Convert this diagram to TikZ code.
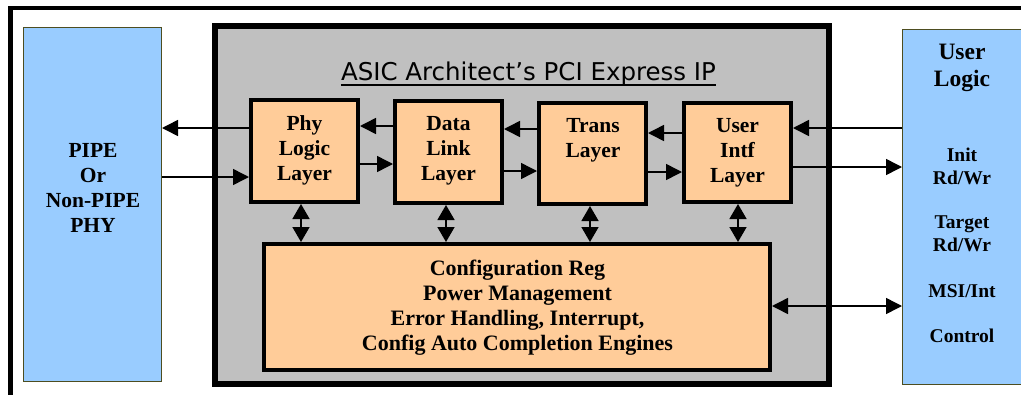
\documentclass[tikz,border=0pt]{standalone}
\usepackage{fontspec}
\setmainfont{Liberation Serif}
\newfontfamily\titlefont{DejaVu Sans}
\usetikzlibrary{arrows.meta}
\definecolor{bluefill}{HTML}{99CCFF}
\definecolor{orangefill}{HTML}{FFCC99}
\definecolor{grayfill}{HTML}{C0C0C0}
\definecolor{olive}{HTML}{4D4D20}
\tikzset{
  bluebox/.style={draw=olive, line width=1pt, fill=bluefill, inner sep=0pt},
  layerbox/.style={draw=black, line width=4pt, fill=orangefill, inner sep=0pt, minimum width=107pt},
  graybox/.style={draw=black, line width=6pt, fill=grayfill, inner sep=0pt},
  lbl/.style={font=\fontsize{21.5}{25}\selectfont\bfseries, align=center, inner sep=0pt},
  slbl/.style={font=\fontsize{19.5}{23}\selectfont\bfseries, align=center, inner sep=0pt},
  arr/.style={line width=1.5pt, -{Triangle[length=16pt,width=16pt]}},
  darr/.style={line width=1.5pt, {Triangle[length=16pt,width=16pt]}-{Triangle[length=16pt,width=16pt]}},
  varr/.style={line width=1.5pt, {Triangle[length=15pt,width=17pt]}-{Triangle[length=15pt,width=17pt]}},
}
\begin{document}
\begin{tikzpicture}[x=1pt,y=-1pt]
\useasboundingbox (0,0) rectangle (1021,394);
% outer frame
\draw[line width=4.5pt] (10.5,400) -- (10.5,8) -- (1030,8);
% left PHY box
\node[bluebox, minimum width=138pt, minimum height=354pt] (pipe) at (92.5,204.5) {};
\node[lbl] (pipetxt) at (93,187.5) {PIPE\\Or\\Non-PIPE\\PHY};
% right user logic box
\node[bluebox, minimum width=127pt, minimum height=355pt] (ulogic) at (966,207) {};
\node[font=\fontsize{23.5}{27}\selectfont\bfseries, align=center, inner sep=0pt] (ultxt) at (962,68.2) {User\\Logic};
\node[slbl] (initt) at (962,166) {Init\\Rd/Wr};
\node[slbl] (targett) at (962,234.2) {Target\\Rd/Wr};
\node[slbl] (msit) at (962,290.9) {MSI/Int};
\node[slbl] (ctrlt) at (962,335.6) {Control};
% gray IP box
\node[graybox, minimum width=614pt, minimum height=358pt] (ip) at (522,205) {};
\node[font=\titlefont\fontsize{24.5}{28}\selectfont, inner sep=0pt, anchor=base] (title) at (528.5,80) {ASIC Architect’s PCI Express IP};
\draw[line width=2.2pt] ([yshift=-5pt]title.base west) -- ([yshift=-5pt]title.base east);
% layer boxes
\node[layerbox, minimum height=102pt] (phy) at (304.5,151) {};
\node[layerbox, minimum height=102pt] (data) at (448.5,152) {};
\node[layerbox, minimum height=101pt] (trans) at (592.5,153.5) {};
\node[layerbox, minimum height=99pt] (user) at (737.5,152.5) {};
\node[lbl] (phytxt) at (304.5,150) {Phy\\Logic\\Layer};
\node[lbl] (datatxt) at (448.5,151) {Data\\Link\\Layer};
\node[lbl] (transtxt) at (593,140.7) {Trans\\Layer};
\node[lbl] (usertxt) at (737.5,153.2) {User\\Intf\\Layer};
% config box
\node[layerbox, minimum width=506pt, minimum height=126pt] (config) at (517,307) {};
\node[font=\fontsize{22}{25.2}\selectfont\bfseries, align=center, inner sep=0pt] (conftxt) at (517.5,307.7)
  {Configuration Reg\\Power Management\\Error Handling, Interrupt,\\Config Auto Completion Engines};
% horizontal arrows
\draw[arr] ([yshift=23pt]phy.west) -- ([yshift=23pt]phy.west -| pipe.east);
\draw[arr] ([yshift=-26pt]phy.west -| pipe.east) -- ([yshift=-26pt]phy.west);
\draw[arr] ([yshift=26pt]data.west) -- ([yshift=26pt]data.west -| phy.east);
\draw[arr] ([yshift=-12pt]data.west -| phy.east) -- ([yshift=-12pt]data.west);
\draw[arr] ([yshift=24.5pt]trans.west) -- ([yshift=24.5pt]trans.west -| data.east);
\draw[arr] ([yshift=-17.5pt]trans.west -| data.east) -- ([yshift=-17.5pt]trans.west);
\draw[arr] ([yshift=19.5pt]user.west) -- ([yshift=19.5pt]user.west -| trans.east);
\draw[arr] ([yshift=-19.5pt]user.west -| trans.east) -- ([yshift=-19.5pt]user.west);
\draw[arr] ([yshift=24.5pt]user.east -| ulogic.west) -- ([yshift=24.5pt]user.east);
\draw[arr] ([yshift=-14.5pt]user.east) -- ([yshift=-14.5pt]user.east -| ulogic.west);
\draw[darr] ([yshift=1pt]config.east) -- ([yshift=1pt]config.east -| ulogic.west);
% vertical arrows
\draw[varr] ([xshift=-3.5pt]phy.south) -- ([xshift=-3.5pt]phy.south |- config.north);
\draw[varr] ([xshift=-2.5pt]data.south) -- ([xshift=-2.5pt]data.south |- config.north);
\draw[varr] ([xshift=-2.5pt]trans.south) -- ([xshift=-2.5pt]trans.south |- config.north);
\draw[varr] ([xshift=0.5pt]user.south) -- ([xshift=0.5pt]user.south |- config.north);
\end{tikzpicture}
\end{document}
